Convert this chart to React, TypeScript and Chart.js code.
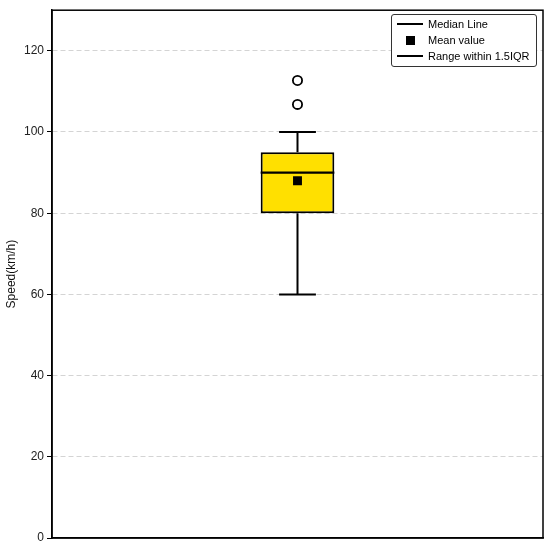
import React, { useEffect, useRef } from "react";
import { Chart, registerables } from "chart.js";

Chart.register(...registerables);

const categories = ["Speed"];
const boxRange: [number, number] = [80, 95]; // Q1, Q3
const medianValues = [90];
const meanValues = [88];
const whiskerLow = [60];
const whiskerHigh = [100];
const outlierValues = [106.8, 112.7];
const yTicks = [0, 20, 40, 60, 80, 100, 120];

const FONT = "'Liberation Sans', Arial, sans-serif";

const boxPlugin = {
  id: "boxExtras",
  afterDatasetsDraw(chart: any) {
    const { ctx, scales } = chart;
    const xs = scales.x;
    const ys = scales.y;
    const meta = chart.getDatasetMeta(0);
    ctx.save();
    ctx.strokeStyle = "#000";
    categories.forEach((_, i) => {
      const bar = meta.data[i];
      const cx = xs.getPixelForValue(i);
      const half = bar.width / 2;
      const capHalf = half / 2;
      const yQ1 = ys.getPixelForValue(boxRange[0]);
      const yQ3 = ys.getPixelForValue(boxRange[1]);
      const yLo = ys.getPixelForValue(whiskerLow[i]);
      const yHi = ys.getPixelForValue(whiskerHigh[i]);
      const yMed = ys.getPixelForValue(medianValues[i]);
      ctx.lineWidth = 2;
      ctx.beginPath();
      ctx.moveTo(cx, yQ1);
      ctx.lineTo(cx, yLo);
      ctx.moveTo(cx, yQ3);
      ctx.lineTo(cx, yHi);
      ctx.moveTo(cx - capHalf, yLo);
      ctx.lineTo(cx + capHalf, yLo);
      ctx.moveTo(cx - capHalf, yHi);
      ctx.lineTo(cx + capHalf, yHi);
      ctx.stroke();
      ctx.lineWidth = 2.2;
      ctx.beginPath();
      ctx.moveTo(cx - half, yMed);
      ctx.lineTo(cx + half, yMed);
      ctx.stroke();
    });
    ctx.restore();
  },
  afterDraw(chart: any) {
    const { ctx, chartArea } = chart;
    ctx.save();
    ctx.strokeStyle = "#000";
    ctx.lineWidth = 1.5;
    ctx.strokeRect(chartArea.left, chartArea.top, chartArea.right - chartArea.left, chartArea.bottom - chartArea.top);
    ctx.restore();
  },
};

export default function App() {
  const ref = useRef<HTMLCanvasElement | null>(null);
  useEffect(() => {
    if (!ref.current) return;
    const chart = new Chart(ref.current, {
      type: "bar",
      data: {
        labels: categories,
        datasets: [
          {
            type: "bar",
            data: [boxRange] as any,
            backgroundColor: "#FFE000",
            borderColor: "#000",
            borderWidth: 2,
            borderSkipped: false,
            barPercentage: 0.5,
            categoryPercentage: 0.3,
            order: 3,
          } as any,
          {
            type: "line",
            data: meanValues,
            showLine: false,
            pointStyle: "rect",
            pointRadius: 6.3,
            pointBackgroundColor: "#000",
            pointBorderWidth: 0,
            order: 1,
          } as any,
          {
            type: "line",
            data: outlierValues.map((v) => ({ x: categories[0], y: v })),
            showLine: false,
            pointStyle: "circle",
            pointRadius: 4.6,
            pointBackgroundColor: "#fff",
            pointBorderColor: "#000",
            pointBorderWidth: 1.8,
            order: 1,
          } as any,
        ],
      },
      options: {
        animation: false,
        responsive: false,
        layout: { padding: { top: 8, right: 7, left: 0, bottom: 0 } },
        plugins: { legend: { display: false }, tooltip: { enabled: false } },
        scales: {
          x: {
            ticks: { display: false },
            grid: { display: false, drawTicks: false },
            border: { display: true, color: "#000", width: 1.5 },
            afterFit: (s: any) => {
              s.height = 14;
            },
          },
          y: {
            min: 0,
            max: 130,
            afterBuildTicks: (s: any) => {
              s.ticks = yTicks.map((v) => ({ value: v }));
            },
            ticks: {
              color: "#222",
              font: { family: FONT, size: 12 },
              padding: 3,
            },
            grid: {
              color: (c: any) => (c.tick && c.tick.value === 0 ? "rgba(0,0,0,0)" : "#d4d4d4"),
              tickColor: "#000",
              tickLength: 5,
              drawTicks: true,
            } as any,
            border: { display: true, color: "#000", width: 1.5, dash: [5, 3] } as any,
            title: {
              display: true,
              text: "Speed(km/h)",
              color: "#111",
              font: { family: FONT, size: 12 },
              padding: { top: 4, bottom: 0 },
            },
            afterFit: (s: any) => {
              s.width = 52;
            },
          },
        },
      } as any,
      plugins: [boxPlugin],
    });
    return () => chart.destroy();
  }, []);

  const legendRow = (symbol: React.ReactNode, text: string, top: number) => (
    <div style={{ position: "absolute", left: 0, top, height: 16, display: "flex", alignItems: "center" }}>
      <div style={{ width: 36, display: "flex", justifyContent: "center", alignItems: "center" }}>{symbol}</div>
      <span style={{ fontFamily: FONT, fontSize: 11, color: "#000", whiteSpace: "nowrap" }}>{text}</span>
    </div>
  );

  return (
    <div style={{ position: "absolute", left: 0, top: 0, width: 550, height: 552, background: "#fff" }}>
      <canvas ref={ref} width={550} height={552} style={{ display: "block" }} />
      <div
        style={{
          position: "absolute",
          left: 391,
          top: 14,
          width: 144,
          height: 51,
          border: "1px solid #333",
          borderRadius: 3,
          background: "#fff",
        }}
      >
        {legendRow(<div style={{ width: 26, height: 2, background: "#000" }} />, "Median Line", 1)}
        {legendRow(<div style={{ width: 9, height: 9, background: "#000" }} />, "Mean value", 17)}
        {legendRow(<div style={{ width: 26, height: 1.5, background: "#000" }} />, "Range within 1.5IQR", 33)}
      </div>
    </div>
  );
}
